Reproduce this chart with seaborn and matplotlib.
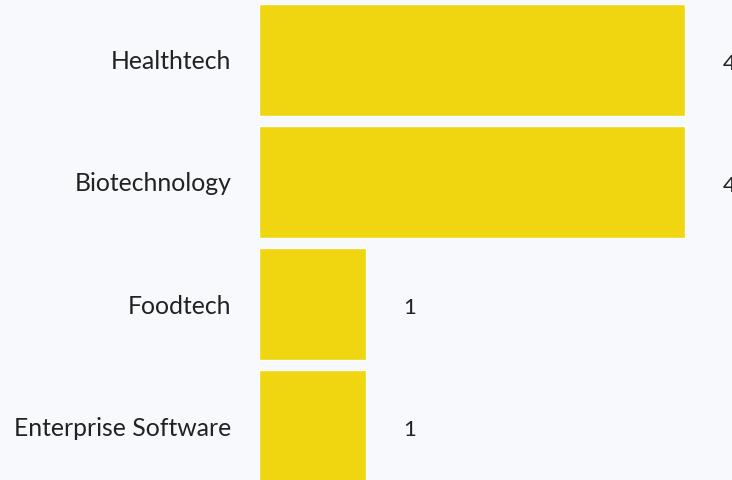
import pandas as pd
import matplotlib.pyplot as plt
import seaborn as sns

# Data
categories = ['Healthtech', 'Biotechnology', 'Foodtech', 'Enterprise Software']
counts = [4, 4, 1, 1]

df = pd.DataFrame({'category': categories, 'count': counts})

sns.set_style('white')
plt.rcParams['font.family'] = ['Lato', 'DejaVu Sans']

bg = '#f8f9fd'
fig = plt.figure(figsize=(7.32, 4.8), dpi=100, facecolor=bg)
ax = fig.add_axes([259 / 732, 0, 1 - 259 / 732, 1], facecolor=bg)

sns.barplot(data=df, x='count', y='category', color='#f0d511', saturation=1,
            width=0.918, ax=ax)

# value labels right of bars
for i, v in enumerate(counts):
    ax.text(v + 0.41, i + 0.03, str(v), va='center', ha='center', fontsize=16, color='#222222')

ax.set_xlim(0, 4.44)
ax.set_ylim(3.44, -0.49)
ax.set_xlabel('')
ax.set_ylabel('')
ax.set_xticks([])
ax.tick_params(axis='y', length=0, pad=20, labelsize=17.8, labelcolor='#222222')
sns.despine(ax=ax, left=True, bottom=True)

fig.savefig('out.png', dpi=100, facecolor=bg)
